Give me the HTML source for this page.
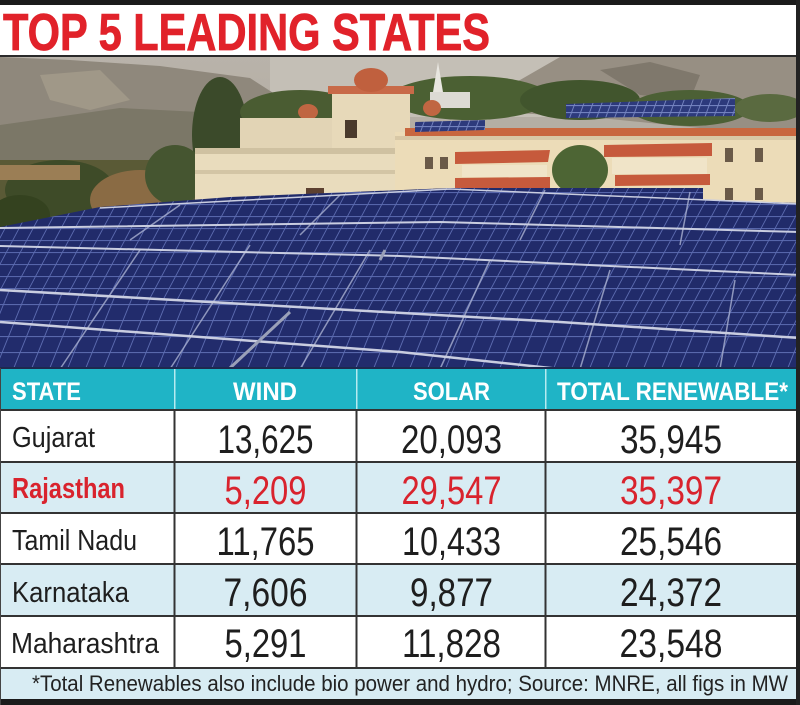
<!DOCTYPE html>
<html>
<head>
<meta charset="utf-8">
<style>
html,body{margin:0;padding:0;background:#fff;}
svg{display:block;}
text{font-family:"Liberation Sans",Arial,sans-serif;}
</style>
</head>
<body>
<svg width="800" height="705" viewBox="0 0 800 705" xmlns="http://www.w3.org/2000/svg">
<defs>
  <pattern id="cells" width="14" height="12" patternUnits="userSpaceOnUse" patternTransform="skewX(-28)">
    <rect width="14" height="12" fill="#212b6a"/>
    <path d="M0 0.5H14M0.5 0V12" stroke="#5c6bb0" stroke-width="1"/>
  </pattern>
  <pattern id="cellsBig" width="18" height="16" patternUnits="userSpaceOnUse" patternTransform="skewX(-22)">
    <rect width="18" height="16" fill="#222c6c"/>
    <path d="M0 0.5H18M0.5 0V16" stroke="#5c6bb0" stroke-width="1"/>
  </pattern>
  <pattern id="cells2" width="9" height="7" patternUnits="userSpaceOnUse" patternTransform="skewX(-20)">
    <rect width="9" height="7" fill="#2d3a7c"/>
    <path d="M0 0.5H9M0.5 0V7" stroke="#7584c0" stroke-width="1"/>
  </pattern>
  <linearGradient id="sky" x1="0" y1="0" x2="0" y2="1">
    <stop offset="0" stop-color="#b9b3aa"/>
    <stop offset="1" stop-color="#a39c90"/>
  </linearGradient>
</defs>

<!-- top black bar -->
<rect x="0" y="0" width="800" height="5" fill="#1b1b1b"/>
<rect x="0" y="5" width="800" height="51" fill="#ffffff"/>
<text x="3" y="50" font-size="52" font-weight="bold" fill="#e1222a" textLength="487" lengthAdjust="spacingAndGlyphs" stroke="#e1222a" stroke-width="0.8">TOP 5 LEADING STATES</text>

<!-- photo -->
<g>
  <rect x="0" y="56" width="800" height="313" fill="url(#sky)"/>
  <rect x="0" y="55" width="800" height="2" fill="#2a2a2a"/>
  <rect x="270" y="57" width="300" height="60" fill="#c4bfb6"/>
  <polygon points="0,57 0,165 280,140 292,105 250,78 160,66 70,60" fill="#8f887c"/>
  <polygon points="560,57 800,57 800,150 700,128 600,118 500,112 470,100 520,80" fill="#978f83"/>
  <polygon points="600,70 650,62 700,75 690,100 640,95" fill="#7f786c"/>
  <polygon points="0,125 120,108 200,112 290,122 300,165 0,180" fill="#7b7767"/>
  <polygon points="40,75 100,70 130,100 90,110 50,100" fill="#a09888"/>
  <rect x="0" y="160" width="210" height="75" fill="#5a5a36"/>
  <ellipse cx="60" cy="190" rx="55" ry="30" fill="#3e4b28"/>
  <ellipse cx="140" cy="200" rx="50" ry="30" fill="#8a6b44"/>
  <ellipse cx="20" cy="215" rx="30" ry="20" fill="#34421f"/>
  <rect x="0" y="165" width="80" height="15" fill="#9b7e55"/>
  <ellipse cx="220" cy="135" rx="28" ry="58" fill="#3b4a2a"/>
  <ellipse cx="175" cy="175" rx="30" ry="30" fill="#455530"/>
  <ellipse cx="300" cy="112" rx="60" ry="22" fill="#4a5c32"/>
  <ellipse cx="470" cy="98" rx="80" ry="22" fill="#4b6033"/>
  <ellipse cx="580" cy="100" rx="60" ry="20" fill="#41552d"/>
  <ellipse cx="690" cy="108" rx="60" ry="18" fill="#4c6035"/>
  <ellipse cx="770" cy="108" rx="35" ry="14" fill="#5a6a40"/>
  <polygon points="432,98 438,62 444,98" fill="#e8e6e0"/>
  <rect x="430" y="92" width="40" height="16" fill="#dcdad4"/>
  <rect x="332" y="92" width="78" height="70" fill="#e7d9b9"/>
  <rect x="328" y="86" width="86" height="8" fill="#c86a48"/>
  <ellipse cx="371" cy="80" rx="17" ry="12" fill="#c0603e"/>
  <rect x="345" y="120" width="12" height="18" fill="#4a3a2c"/>
  <ellipse cx="308" cy="112" rx="10" ry="8" fill="#c06642"/>
  <ellipse cx="432" cy="108" rx="9" ry="8" fill="#c06642"/>
  <rect x="240" y="118" width="92" height="30" fill="#e2d4b5"/>
  <rect x="195" y="148" width="215" height="57" fill="#e9dcbd"/>
  <rect x="195" y="148" width="215" height="6" fill="#cfc1a1"/>
  <rect x="195" y="170" width="215" height="4" fill="#d3c5a5"/>
  <rect x="306" y="188" width="18" height="17" fill="#5c4030"/>
  <rect x="395" y="132" width="405" height="73" fill="#ecdcb8"/>
  <rect x="405" y="128" width="395" height="8" fill="#c8673f"/>
  <rect x="395" y="136" width="405" height="4" fill="#d8c8a6"/>
  <polygon points="455,152 550,150 548,162 455,164" fill="#c65a3c"/>
  <polygon points="604,145 712,143 712,156 604,157" fill="#c65a3c"/>
  <polygon points="455,178 550,177 550,188 455,189" fill="#c65a3c"/>
  <polygon points="615,175 710,174 710,185 615,186" fill="#c65a3c"/>
  <rect x="462" y="165" width="85" height="12" fill="#f0e4c8"/>
  <rect x="612" y="158" width="95" height="16" fill="#f0e4c8"/>
  <rect x="425" y="157" width="8" height="12" fill="#6a5a48"/>
  <rect x="440" y="157" width="8" height="12" fill="#6a5a48"/>
  <rect x="590" y="152" width="8" height="12" fill="#6a5a48"/>
  <rect x="725" y="148" width="8" height="14" fill="#6a5a48"/>
  <rect x="755" y="148" width="8" height="14" fill="#6a5a48"/>
  <rect x="725" y="188" width="8" height="12" fill="#6a5a48"/>
  <rect x="755" y="188" width="8" height="12" fill="#6a5a48"/>
  <ellipse cx="580" cy="170" rx="28" ry="25" fill="#4d6534"/>
  <polygon points="566,104 735,98 735,116 566,118" fill="url(#cells2)"/>
  <polygon points="415,122 485,120 485,130 415,132" fill="url(#cells2)"/>
  <!-- main solar field -->
  <polygon points="0,227 100,207 230,197 450,188 703,188 703,200 800,203 800,369 0,369" fill="url(#cells)"/>
  <polygon points="0,290 560,322 800,338 800,369 0,369" fill="url(#cellsBig)"/>
  <!-- panel separators -->
  <g stroke="#aab1d2" stroke-width="1.5" fill="none" opacity="0.8">
    <path d="M60,369 L140,250"/>
    <path d="M170,369 L250,245"/>
    <path d="M300,369 L370,250"/>
    <path d="M440,369 L490,260"/>
    <path d="M580,369 L610,270"/>
    <path d="M720,369 L735,280"/>
    <path d="M130,240 L180,205"/>
    <path d="M300,235 L340,195"/>
    <path d="M520,240 L545,190"/>
    <path d="M680,245 L690,192"/>
  </g>
  <!-- rails -->
  <g stroke="#c9cde0" fill="none">
    <path d="M100,208 L450,189 L800,204" stroke-width="1.5"/>
    <path d="M0,228 L440,222 L800,232" stroke-width="2"/>
    <path d="M0,246 L400,256 L800,275" stroke-width="2"/>
    <path d="M0,290 L560,322 L800,338" stroke-width="2.5"/>
    <path d="M0,322 L400,352 L560,369" stroke-width="2.5"/>
  </g>
  <g stroke="#9aa0b8" stroke-width="3" fill="none">
    <path d="M230,368 L290,312"/>
    <path d="M385,250 L380,260"/>
  </g>
</g>

<!-- table header -->
<rect x="0" y="368" width="800" height="42" fill="#1fb4c6"/>
<rect x="0" y="367" width="800" height="2" fill="#1d2a4e"/>
<rect x="174" y="369" width="1.5" height="41" fill="#b6eaf0"/>
<rect x="356" y="369" width="1.5" height="41" fill="#b6eaf0"/>
<rect x="545" y="369" width="1.5" height="41" fill="#b6eaf0"/>
<g font-size="25" font-weight="bold" fill="#ffffff">
  <text x="12" y="400" textLength="69" lengthAdjust="spacingAndGlyphs">STATE</text>
  <text x="233" y="400" textLength="64" lengthAdjust="spacingAndGlyphs">WIND</text>
  <text x="413" y="400" textLength="77" lengthAdjust="spacingAndGlyphs">SOLAR</text>
  <text x="557" y="400" textLength="231" lengthAdjust="spacingAndGlyphs">TOTAL RENEWABLE*</text>
</g>

<!-- rows backgrounds -->
<rect x="0" y="410" width="800" height="52" fill="#ffffff"/>
<rect x="0" y="462" width="800" height="51" fill="#d8ecf3"/>
<rect x="0" y="513" width="800" height="51" fill="#ffffff"/>
<rect x="0" y="564" width="800" height="52" fill="#d8ecf3"/>
<rect x="0" y="616" width="800" height="52" fill="#ffffff"/>
<rect x="0" y="668" width="800" height="31" fill="#d8ecf3"/>
<rect x="0" y="699" width="800" height="6" fill="#1b1b1b"/>

<!-- grid lines -->
<g fill="#333333">
  <rect x="0" y="409" width="800" height="2"/>
  <rect x="0" y="461" width="800" height="2"/>
  <rect x="0" y="512" width="800" height="2"/>
  <rect x="0" y="563" width="800" height="2"/>
  <rect x="0" y="615" width="800" height="2"/>
  <rect x="0" y="667" width="800" height="2"/>
  <rect x="173.5" y="410" width="2" height="258"/>
  <rect x="355.5" y="410" width="2" height="258"/>
  <rect x="544.5" y="410" width="2" height="258"/>
</g>
<rect x="0" y="368" width="1" height="337" fill="#444"/>
<rect x="796" y="0" width="4" height="705" fill="#222"/>

<!-- state names -->
<g font-size="29" fill="#1e1e1e">
  <text x="12" y="447" textLength="83" lengthAdjust="spacingAndGlyphs">Gujarat</text>
  <text x="12" y="498" textLength="113" lengthAdjust="spacingAndGlyphs" font-weight="bold" fill="#d9232d">Rajasthan</text>
  <text x="12" y="550" textLength="125" lengthAdjust="spacingAndGlyphs">Tamil Nadu</text>
  <text x="12" y="602" textLength="117" lengthAdjust="spacingAndGlyphs">Karnataka</text>
  <text x="11" y="653" textLength="148" lengthAdjust="spacingAndGlyphs">Maharashtra</text>
</g>

<!-- numbers -->
<g font-size="40" fill="#1e1e1e" text-anchor="middle">
  <text x="265.5" y="453" textLength="96" lengthAdjust="spacingAndGlyphs">13,625</text>
  <text x="451.5" y="453" textLength="101" lengthAdjust="spacingAndGlyphs">20,093</text>
  <text x="671" y="453" textLength="102" lengthAdjust="spacingAndGlyphs">35,945</text>

  <text x="265.5" y="504" textLength="82" lengthAdjust="spacingAndGlyphs" fill="#d9232d">5,209</text>
  <text x="451.5" y="504" textLength="100" lengthAdjust="spacingAndGlyphs" fill="#d9232d">29,547</text>
  <text x="671" y="504" textLength="102" lengthAdjust="spacingAndGlyphs" fill="#d9232d">35,397</text>

  <text x="265.5" y="555" textLength="98" lengthAdjust="spacingAndGlyphs">11,765</text>
  <text x="451.5" y="555" textLength="99" lengthAdjust="spacingAndGlyphs">10,433</text>
  <text x="671" y="555" textLength="102" lengthAdjust="spacingAndGlyphs">25,546</text>

  <text x="265.5" y="606" textLength="84" lengthAdjust="spacingAndGlyphs">7,606</text>
  <text x="451.5" y="606" textLength="83" lengthAdjust="spacingAndGlyphs">9,877</text>
  <text x="671" y="606" textLength="102" lengthAdjust="spacingAndGlyphs">24,372</text>

  <text x="265.5" y="657" textLength="82" lengthAdjust="spacingAndGlyphs">5,291</text>
  <text x="451.5" y="657" textLength="99" lengthAdjust="spacingAndGlyphs">11,828</text>
  <text x="671" y="657" textLength="103" lengthAdjust="spacingAndGlyphs">23,548</text>
</g>

<!-- footnote -->
<text x="32" y="691" font-size="22" fill="#222" textLength="756" lengthAdjust="spacingAndGlyphs">*Total Renewables also include bio power and hydro; Source: MNRE, all figs in MW</text>
</svg>
</body>
</html>
